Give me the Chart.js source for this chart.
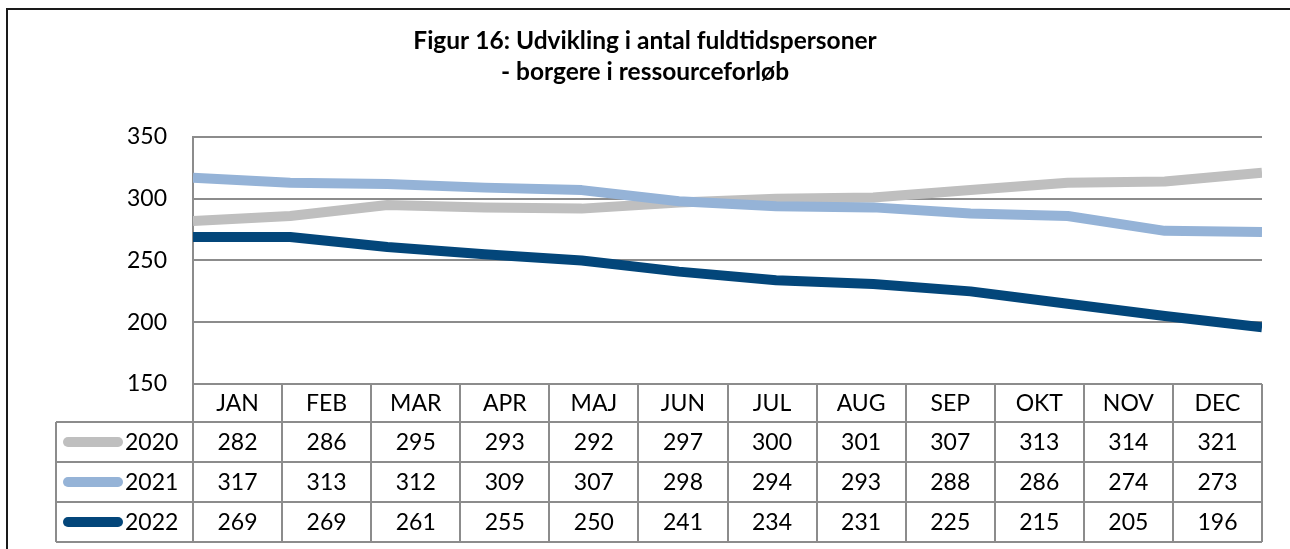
<!DOCTYPE html>
<html>
<head>
<meta charset="utf-8">
<script src="https://cdn.jsdelivr.net/npm/chart.js@4/dist/chart.umd.min.js"></script>
<style>
  html, body { margin: 0; padding: 0; background: #fff; }
  canvas { display: block; }
</style>
</head>
<body>
<canvas id="chart" width="1290" height="549"></canvas>
<script>
// Data
const months = ["JAN", "FEB", "MAR", "APR", "MAJ", "JUN", "JUL", "AUG", "SEP", "OKT", "NOV", "DEC"];
const seriesNames = ["2020", "2021", "2022"];
const values2020 = [282, 286, 295, 293, 292, 297, 300, 301, 307, 313, 314, 321];
const values2021 = [317, 313, 312, 309, 307, 298, 294, 293, 288, 286, 274, 273];
const values2022 = [269, 269, 261, 255, 250, 241, 234, 231, 225, 215, 205, 196];
const yMin = 150;
const yMax = 350;
const yStep = 50;

const colors = ["#bfbfbf", "#95b3d7", "#03467a"];
const gridColor = "#8c8c8c";
const fontFamily = "Lato, 'Open Sans', sans-serif";

// hvid baggrund + ramme
const framePlugin = {
  id: "frame",
  beforeDraw(chart) {
    const c = chart.ctx;
    c.save();
    c.fillStyle = "#fff";
    c.fillRect(0, 0, chart.width, chart.height);
    c.strokeStyle = "#1a1a1a";
    c.lineWidth = 2;
    c.beginPath();
    c.moveTo(7, chart.height + 2);
    c.lineTo(7, 9);
    c.lineTo(chart.width + 2, 9);
    c.stroke();
    c.restore();
  },
};

// datatabel under grafen
const tablePlugin = {
  id: "dataTable",
  afterDraw(chart) {
    const c = chart.ctx;
    const { left, right, bottom } = chart.chartArea;
    const colW = (right - left) / months.length;
    const headH = 38;
    const rowH = 40;
    const legendLeft = 56;
    const tableBottom = bottom + headH + rowH * seriesNames.length;
    const rows = [values2020, values2021, values2022];

    c.save();
    c.strokeStyle = gridColor;
    c.lineWidth = 2;
    c.beginPath();
    for (let i = 0; i <= months.length; i++) {
      const x = Math.round(left + i * colW);
      c.moveTo(x, bottom);
      c.lineTo(x, tableBottom);
    }
    c.moveTo(left, bottom);
    c.lineTo(right, bottom);
    for (let r = 0; r <= rows.length; r++) {
      const y = bottom + headH + r * rowH;
      c.moveTo(legendLeft, y);
      c.lineTo(right, y);
    }
    c.moveTo(legendLeft, bottom + headH);
    c.lineTo(legendLeft, tableBottom);
    c.stroke();

    c.fillStyle = "#000";
    c.font = "23px " + fontFamily;
    c.textAlign = "center";
    c.textBaseline = "middle";
    months.forEach((m, i) => {
      c.fillText(m, left + (i + 0.5) * colW, bottom + headH / 2 + 1);
    });
    rows.forEach((vals, r) => {
      const yc = bottom + headH + r * rowH + rowH / 2 + 1;
      vals.forEach((v, i) => {
        c.fillText(String(v), left + (i + 0.5) * colW, yc);
      });
    });

    // legend-nøgler
    rows.forEach((vals, r) => {
      const yc = bottom + headH + r * rowH + rowH / 2;
      c.strokeStyle = colors[r];
      c.lineWidth = 10;
      c.lineCap = "round";
      c.beginPath();
      c.moveTo(68, yc);
      c.lineTo(118, yc);
      c.stroke();
      c.textAlign = "left";
      c.fillStyle = "#000";
      c.fillText(seriesNames[r], 125, yc + 1);
    });
    c.restore();
  },
};

const datasets = [values2020, values2021, values2022].map((vals, i) => ({
  label: seriesNames[i],
  data: vals,
  borderColor: colors[i],
  backgroundColor: colors[i],
  borderWidth: 10,
  pointRadius: 0,
  tension: 0,
  borderJoinStyle: "round",
  clip: 0,
  order: 3 - i,
}));

const ctx = document.getElementById("chart");
const chart = new Chart(ctx, {
  type: "line",
  data: { labels: months, datasets },
  plugins: [framePlugin, tablePlugin],
  options: {
    responsive: false,
    animation: false,
    devicePixelRatio: 1,
    layout: { padding: { top: 26, left: 28, right: 28, bottom: 165 } },
    plugins: {
      legend: { display: false },
      tooltip: { enabled: false },
      title: {
        display: true,
        text: ["Figur 16: Udvikling i antal fuldtidspersoner", "- borgere i ressourceforløb"],
        color: "#000",
        font: { family: fontFamily, size: 24.5, weight: "bold", lineHeight: 1.265 },
        padding: { top: 0, bottom: 49 },
      },
    },
    scales: {
      x: { display: false, offset: false },
      y: {
        min: yMin,
        max: yMax,
        ticks: {
          stepSize: yStep,
          color: "#000",
          font: { family: fontFamily, size: 23 },
          padding: 26,
        },
        grid: { color: gridColor, lineWidth: 2, drawTicks: false },
        border: { display: true, color: gridColor, width: 2 },
        afterFit(scale) {
          scale.width = 165;
        },
      },
    },
  },
});
</script>
</body>
</html>
